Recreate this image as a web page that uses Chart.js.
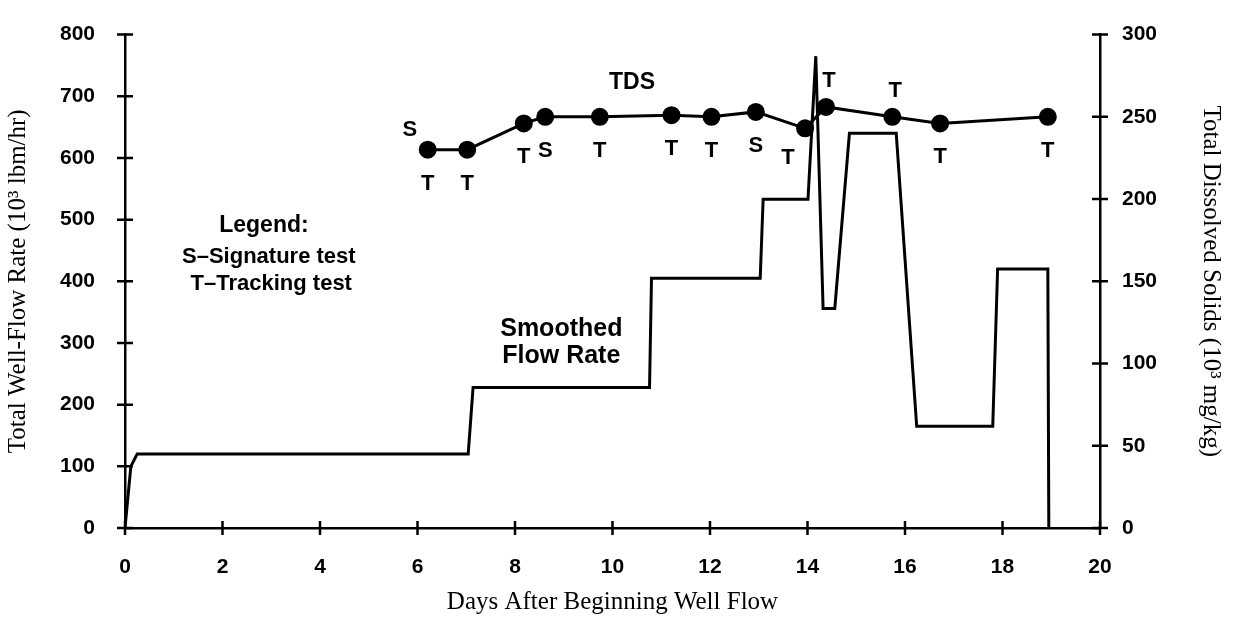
<!DOCTYPE html>
<html>
<head>
<meta charset="utf-8">
<script src="https://cdn.jsdelivr.net/npm/chart.js@4.4.1/dist/chart.umd.min.js"></script>
<style>
  html, body { margin: 0; padding: 0; background: #fff; }
  #wrap { width: 1238px; height: 625px; position: relative; }
</style>
</head>
<body>
<div id="wrap"><canvas id="flowChart"></canvas></div>
<script>
// smoothed well flow rate (10^3 lbm/hr), left axis
const flowDays = [0, 0.12, 0.25, 7.04, 7.14, 10.76, 10.8, 13.03, 13.09, 14.01, 14.17, 14.32, 14.56, 14.86, 15.82, 16.24, 17.8, 17.9, 18.93, 18.95];
const flowRate = [0, 100, 120, 120, 228, 228, 405, 405, 533, 533, 765, 356, 356, 640, 640, 165, 165, 420, 420, 0];

// total dissolved solids (10^3 mg/kg), right axis
const tdsDays = [6.21, 7.02, 8.18, 8.62, 9.74, 11.21, 12.03, 12.94, 13.95, 14.38, 15.74, 16.72, 18.93];
const tdsValues = [230, 230, 246, 250, 250, 251, 250, 253, 243, 256, 250, 246, 250];
const tdsTests = ['T', 'T', 'T', 'S', 'T', 'T', 'T', 'S', 'T', 'T', 'T', 'T', 'T'];
const tdsLabelSide = ['below', 'below', 'below', 'below', 'below', 'below', 'below', 'below', 'belowLeft', 'above', 'above', 'below', 'below'];

const xTicks = [0, 2, 4, 6, 8, 10, 12, 14, 16, 18, 20];
const leftTicks = [0, 100, 200, 300, 400, 500, 600, 700, 800];
const rightTicks = [0, 50, 100, 150, 200, 250, 300];

// free text notes, placed in data units (day, left-axis value)
const notes = [
  { text: 'TDS', day: 10.4, flow: 722, size: 23 },
  { text: 'Legend:', day: 2.85, flow: 490, size: 23 },
  { text: 'S\u2013Signature test', day: 2.95, flow: 440, size: 22 },
  { text: 'T\u2013Tracking test', day: 3.0, flow: 396, size: 22 },
  { text: 'Smoothed', day: 8.95, flow: 323, size: 25 },
  { text: 'Flow Rate', day: 8.95, flow: 279, size: 25 }
];

const tickFont = { family: 'Liberation Sans', size: 21, weight: 'bold' };
const titleFont = { family: 'Liberation Serif', size: 25 };

// tick marks crossing the axis lines, plus the point labels and notes
const decorations = {
  id: 'decorations',
  afterDatasetsDraw(chart) {
    const { ctx, scales } = chart;
    const sx = scales.x, sy = scales.y, sr = scales.y2;
    ctx.save();
    ctx.strokeStyle = '#000';
    ctx.lineWidth = 2.5;
    ctx.beginPath();
    xTicks.forEach(v => {
      const px = sx.getPixelForValue(v);
      ctx.moveTo(px, sx.top - 7);
      ctx.lineTo(px, sx.top + 7);
    });
    leftTicks.forEach(v => {
      const py = sy.getPixelForValue(v);
      ctx.moveTo(sy.right - 8, py);
      ctx.lineTo(sy.right + 8, py);
    });
    rightTicks.forEach(v => {
      const py = sr.getPixelForValue(v);
      ctx.moveTo(sr.left - 8, py);
      ctx.lineTo(sr.left + 8, py);
    });
    ctx.stroke();

    ctx.fillStyle = '#000';
    ctx.font = 'bold 22px "Liberation Sans"';
    ctx.textAlign = 'center';
    ctx.textBaseline = 'middle';
    tdsDays.forEach((d, i) => {
      const px = sx.getPixelForValue(d);
      const py = sr.getPixelForValue(tdsValues[i]);
      const side = tdsLabelSide[i];
      if (side === 'above') ctx.fillText(tdsTests[i], px + 3, py - 26);
      else if (side === 'belowLeft') ctx.fillText(tdsTests[i], px - 17, py + 30);
      else ctx.fillText(tdsTests[i], px, py + 34);
    });
    // the first sample was both a signature and a tracking test
    ctx.fillText('S', sx.getPixelForValue(tdsDays[0]) - 18, sr.getPixelForValue(tdsValues[0]) - 20);

    notes.forEach(n => {
      ctx.font = 'bold ' + n.size + 'px "Liberation Sans"';
      ctx.fillText(n.text, sx.getPixelForValue(n.day), sy.getPixelForValue(n.flow));
    });
    ctx.restore();
  }
};

const ctx = document.getElementById('flowChart').getContext('2d');
new Chart(ctx, {
  type: 'line',
  data: {
    datasets: [
      {
        label: 'Smoothed Flow Rate',
        data: flowDays.map((d, i) => ({ x: d, y: flowRate[i] })),
        yAxisID: 'y',
        borderColor: '#000',
        borderWidth: 3,
        pointRadius: 0,
        tension: 0,
        fill: false
      },
      {
        label: 'TDS',
        data: tdsDays.map((d, i) => ({ x: d, y: tdsValues[i] })),
        yAxisID: 'y2',
        borderColor: '#000',
        borderWidth: 3,
        pointRadius: 7.5,
        pointBackgroundColor: '#000',
        pointBorderColor: '#000',
        tension: 0,
        fill: false
      }
    ]
  },
  options: {
    responsive: true,
    maintainAspectRatio: false,
    animation: false,
    layout: { padding: { top: 20, left: 0, right: 0, bottom: 0 } },
    plugins: {
      legend: { display: false },
      tooltip: { enabled: false }
    },
    scales: {
      x: {
        type: 'linear',
        position: 'bottom',
        min: 0,
        max: 20,
        afterBuildTicks: s => { s.ticks = xTicks.map(v => ({ value: v })); },
        afterFit: s => { s.height = 97; },
        grid: { display: false },
        border: { display: true, color: '#000', width: 2.5 },
        ticks: { color: '#000', font: tickFont, padding: 19, maxRotation: 0 },
        title: {
          display: true,
          text: 'Days After Beginning Well Flow',
          color: '#000',
          font: titleFont,
          padding: { top: 8, bottom: 8 }
        }
      },
      y: {
        type: 'linear',
        position: 'left',
        min: 0,
        max: 800,
        afterBuildTicks: s => { s.ticks = leftTicks.map(v => ({ value: v })); },
        afterFit: s => { s.width = 125; },
        grid: { display: false },
        border: { display: true, color: '#000', width: 2.5 },
        ticks: { color: '#000', font: tickFont, padding: 22 },
        title: {
          display: true,
          text: 'Total Well-Flow Rate (10\u00b3 lbm/hr)',
          color: '#000',
          font: titleFont,
          padding: { top: 3, bottom: 3 }
        }
      },
      y2: {
        type: 'linear',
        position: 'right',
        min: 0,
        max: 300,
        afterBuildTicks: s => { s.ticks = rightTicks.map(v => ({ value: v })); },
        afterFit: s => { s.width = 138; },
        grid: { display: false },
        border: { display: true, color: '#000', width: 2.5 },
        ticks: { color: '#000', font: tickFont, padding: 14 },
        title: {
          display: true,
          text: 'Total Dissolved Solids (10\u00b3 mg/kg)',
          color: '#000',
          font: titleFont,
          padding: { top: 12, bottom: 12 }
        }
      }
    }
  },
  plugins: [decorations]
});
</script>
</body>
</html>
